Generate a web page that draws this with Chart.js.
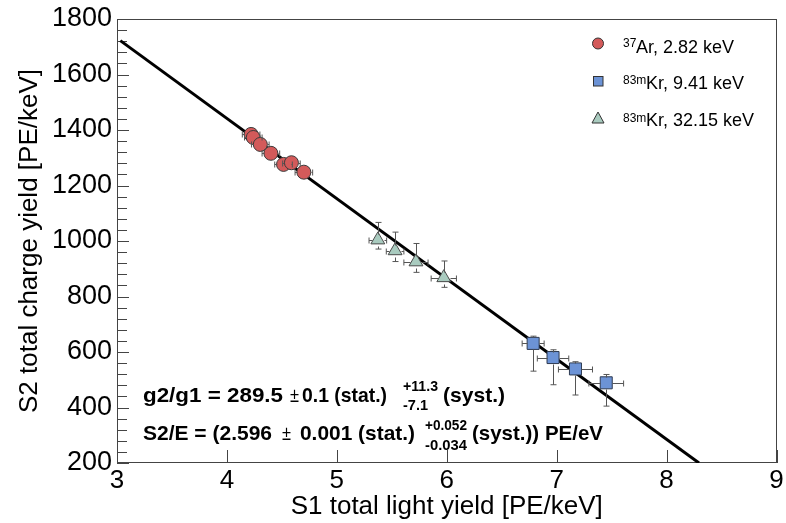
<!DOCTYPE html>
<html>
<head>
<meta charset="utf-8">
<script src="https://cdn.jsdelivr.net/npm/chart.js@4"></script>
<style>
  html, body { margin: 0; padding: 0; background: #fff; }
  #wrap { width: 786px; height: 523px; }
</style>
</head>
<body>
<div id="wrap"><canvas id="yieldChart"></canvas></div>
<script>
// 37Ar, 2.82 keV
const arX = [4.22, 4.24, 4.304, 4.40, 4.515, 4.587, 4.70];
const arY = [1384, 1373, 1348, 1316, 1276, 1282, 1248];
const arXErr = [0.08, 0.08, 0.08, 0.08, 0.08, 0.08, 0.08];
const arYErrLo = [6, 6, 6, 6, 6, 6, 6];
const arYErrHi = [6, 6, 6, 6, 6, 6, 6];

// 83mKr, 9.41 keV
const kr9X = [6.786, 6.967, 7.171, 7.451];
const kr9Y = [631, 580, 539, 489];
const kr9XErr = [0.10, 0.143, 0.155, 0.158];
const kr9YErrLo = [100, 98, 94, 84];
const kr9YErrHi = [26, 28, 26, 30];

// 83mKr, 32.15 keV
const kr32X = [5.373, 5.530, 5.720, 5.973];
const kr32Y = [1004, 965, 925, 868];
const kr32XErr = [0.08, 0.08, 0.11, 0.115];
const kr32YErrLo = [33, 39, 38, 35];
const kr32YErrHi = [63, 67, 66, 60];

// fit line end points
const fitX = [3.03, 8.295];
const fitY = [1722, 200];

const xTicks = [3, 4, 5, 6, 7, 8, 9];
const yTicks = [200, 400, 600, 800, 1000, 1200, 1400, 1600, 1800];
const yMinorStep = 40;

const FONT = '"Liberation Sans", Arial, Helvetica, sans-serif';

const toPoints = (xs, ys) => xs.map((v, i) => ({ x: v, y: ys[i] }));

const errorBars = {
  id: 'errorBars',
  afterDatasetsDraw(chart) {
    const { ctx, scales: { x, y } } = chart;
    ctx.save();
    ctx.strokeStyle = '#555';
    ctx.lineWidth = 1;
    chart.data.datasets.forEach(ds => {
      if (!ds.err) return;
      const gap = ds.markerHalf;
      ds.data.forEach((p, i) => {
        const px = Math.round(x.getPixelForValue(p.x)) + 0.5;
        const py = Math.round(y.getPixelForValue(p.y)) + 0.5;
        const xl = x.getPixelForValue(p.x - ds.err.dx[i]);
        const xr = x.getPixelForValue(p.x + ds.err.dx[i]);
        const yt = y.getPixelForValue(p.y + ds.err.hi[i]);
        const yb = y.getPixelForValue(p.y - ds.err.lo[i]);
        ctx.beginPath();
        if (px - xl > gap) { ctx.moveTo(px - gap, py); ctx.lineTo(xl, py); }
        if (xr - px > gap) { ctx.moveTo(px + gap, py); ctx.lineTo(xr, py); }
        if (py - yt > gap) { ctx.moveTo(px, py - gap); ctx.lineTo(px, yt); }
        if (yb - py > gap) { ctx.moveTo(px, py + gap); ctx.lineTo(px, yb); }
        // end caps, only where they fall outside the marker
        if (px - xl > gap - 1) { ctx.moveTo(xl, py - 3); ctx.lineTo(xl, py + 3); }
        if (xr - px > gap - 1) { ctx.moveTo(xr, py - 3); ctx.lineTo(xr, py + 3); }
        if (py - yt > gap) { ctx.moveTo(px - 3, yt); ctx.lineTo(px + 3, yt); }
        if (yb - py > gap) { ctx.moveTo(px - 3, yb); ctx.lineTo(px + 3, yb); }
        ctx.stroke();
      });
    });
    ctx.restore();
  }
};

const frameTicks = {
  id: 'frameTicks',
  beforeDatasetsDraw(chart) {
    const { ctx, chartArea: a, scales: { x, y } } = chart;
    ctx.save();
    ctx.strokeStyle = '#444';
    ctx.lineWidth = 1;
    ctx.strokeRect(Math.round(a.left) + 0.5, Math.round(a.top) + 0.5,
                   Math.round(a.right - a.left) - 1, Math.round(a.bottom - a.top) - 1);
    ctx.beginPath();
    xTicks.forEach(v => {
      const px = Math.round(x.getPixelForValue(v)) + 0.5;
      ctx.moveTo(px, a.bottom);
      ctx.lineTo(px, a.bottom - 13);
    });
    for (let v = yTicks[0]; v <= yTicks[yTicks.length - 1]; v += yMinorStep) {
      const py = Math.round(y.getPixelForValue(v)) + 0.5;
      const len = yTicks.includes(v) ? 12 : 10;
      ctx.moveTo(a.left, py);
      ctx.lineTo(a.left + len, py);
    }
    ctx.stroke();
    ctx.restore();
  }
};

function stretchText(ctx, text, x, y, font, width) {
  ctx.font = font;
  const w = ctx.measureText(text).width;
  const sx = width ? width / w : 1;
  ctx.save();
  ctx.translate(x, y);
  ctx.scale(sx, 1);
  ctx.fillText(text, 0, 0);
  ctx.restore();
}

const overlay = {
  id: 'overlay',
  afterDraw(chart) {
    const ctx = chart.ctx;
    ctx.save();
    ctx.fillStyle = '#000';
    ctx.textAlign = 'left';
    ctx.textBaseline = 'alphabetic';

    // legend
    ctx.lineWidth = 1;
    ctx.strokeStyle = '#333';
    ctx.fillStyle = '#d35a5a';
    ctx.beginPath(); ctx.arc(598, 43.5, 5.5, 0, Math.PI * 2); ctx.fill(); ctx.stroke();
    ctx.fillStyle = '#6c93d6';
    ctx.fillRect(593, 76, 10, 10); ctx.strokeRect(593.5, 76.5, 9.5, 9.5);
    ctx.fillStyle = '#a9cbbf';
    ctx.beginPath(); ctx.moveTo(598, 112); ctx.lineTo(604, 123); ctx.lineTo(592, 123); ctx.closePath();
    ctx.fill(); ctx.stroke();

    ctx.fillStyle = '#000';
    stretchText(ctx, '37', 623, 46.5, '12px ' + FONT);
    stretchText(ctx, 'Ar, 2.82 keV', 636, 52.5, '18px ' + FONT);
    stretchText(ctx, '83m', 623, 84, '12px ' + FONT);
    stretchText(ctx, 'Kr, 9.41 keV', 646, 89, '18px ' + FONT);
    stretchText(ctx, '83m', 623, 121.5, '12px ' + FONT);
    stretchText(ctx, 'Kr, 32.15 keV', 646, 126, '18px ' + FONT);

    // fit result text
    const B = 'bold 21px ' + FONT, N = '21px ' + FONT, S = 'bold 14px ' + FONT;
    stretchText(ctx, 'g2/g1 = 289.5', 143, 401.5, B, 140);
    stretchText(ctx, '\u00b1', 290, 401.5, N, 9);
    stretchText(ctx, '0.1 (stat.)', 302, 401.5, B, 85);
    stretchText(ctx, '+11.3', 403, 390.5, S, 35);
    stretchText(ctx, '-7.1', 403, 410, S, 25);
    stretchText(ctx, '(syst.)', 443, 401.5, B, 62);

    stretchText(ctx, 'S2/E = (2.596', 143, 440, B, 129);
    stretchText(ctx, '\u00b1', 282, 440, N, 9);
    stretchText(ctx, '0.001 (stat.)', 300, 440, B, 115);
    stretchText(ctx, '+0.052', 425, 430, S, 42);
    stretchText(ctx, '-0.034', 425, 449.5, S, 42);
    stretchText(ctx, '(syst.)) PE/eV', 472, 440, B, 131);
    ctx.restore();
  }
};

const zeroPad = scale => {
  scale.paddingLeft = 0; scale.paddingRight = 0;
  scale.paddingTop = 0; scale.paddingBottom = 0;
};

new Chart(document.getElementById('yieldChart'), {
  type: 'scatter',
  data: {
    datasets: [
      {
        label: '37Ar, 2.82 keV',
        data: toPoints(arX, arY),
        err: { dx: arXErr, lo: arYErrLo, hi: arYErrHi },
        markerHalf: 7,
        pointStyle: 'circle',
        pointRadius: 7,
        pointBackgroundColor: '#d35a5a',
        pointBorderColor: '#3a3a3a',
        pointBorderWidth: 1,
        order: 0
      },
      {
        label: '83mKr, 9.41 keV',
        data: toPoints(kr9X, kr9Y),
        err: { dx: kr9XErr, lo: kr9YErrLo, hi: kr9YErrHi },
        markerHalf: 6,
        pointStyle: 'rect',
        pointRadius: 8.5,
        pointBackgroundColor: '#6c93d6',
        pointBorderColor: '#2e3b52',
        pointBorderWidth: 1,
        order: 0
      },
      {
        label: '83mKr, 32.15 keV',
        data: toPoints(kr32X, kr32Y),
        err: { dx: kr32XErr, lo: kr32YErrLo, hi: kr32YErrHi },
        markerHalf: 6,
        pointStyle: 'triangle',
        pointRadius: 8,
        pointBackgroundColor: '#a9cbbf',
        pointBorderColor: '#4a4a4a',
        pointBorderWidth: 1,
        order: 0
      },
      {
        label: 'fit',
        data: toPoints(fitX, fitY),
        showLine: true,
        pointRadius: 0,
        borderColor: '#000',
        borderWidth: 3,
        order: 1
      }
    ]
  },
  options: {
    responsive: true,
    maintainAspectRatio: false,
    animation: false,
    layout: { padding: { top: 19, right: 5, left: 0, bottom: 0 } },
    plugins: { legend: { display: false }, tooltip: { enabled: false } },
    scales: {
      x: {
        type: 'linear',
        min: 3, max: 9,
        afterBuildTicks: s => { s.ticks = xTicks.map(v => ({ value: v })); },
        afterFit: s => { s.height = 60; zeroPad(s); },
        grid: { display: false, drawTicks: false },
        border: { display: false },
        ticks: { color: '#000', font: { family: FONT, size: 26 }, padding: 2, maxRotation: 0, autoSkip: false,
                 callback: v => String(v) },
        title: {
          display: true,
          text: 'S1 total light yield [PE/keV]',
          color: '#000',
          font: { family: FONT, size: 26 },
          padding: { top: 0, bottom: 1 }
        }
      },
      y: {
        type: 'linear',
        min: 200, max: 1800,
        afterBuildTicks: s => { s.ticks = yTicks.map(v => ({ value: v })); },
        afterFit: s => { s.width = 117; zeroPad(s); },
        grid: { display: false, drawTicks: false },
        border: { display: false },
        ticks: { color: '#000', font: { family: FONT, size: 27 }, padding: 5, autoSkip: false,
                 callback: v => String(v) },
        title: {
          display: true,
          text: 'S2 total charge yield [PE/keV]',
          color: '#000',
          font: { family: FONT, size: 26 },
          padding: { top: 14, bottom: 0 }
        }
      }
    }
  },
  plugins: [frameTicks, errorBars, overlay]
});
</script>
</body>
</html>
